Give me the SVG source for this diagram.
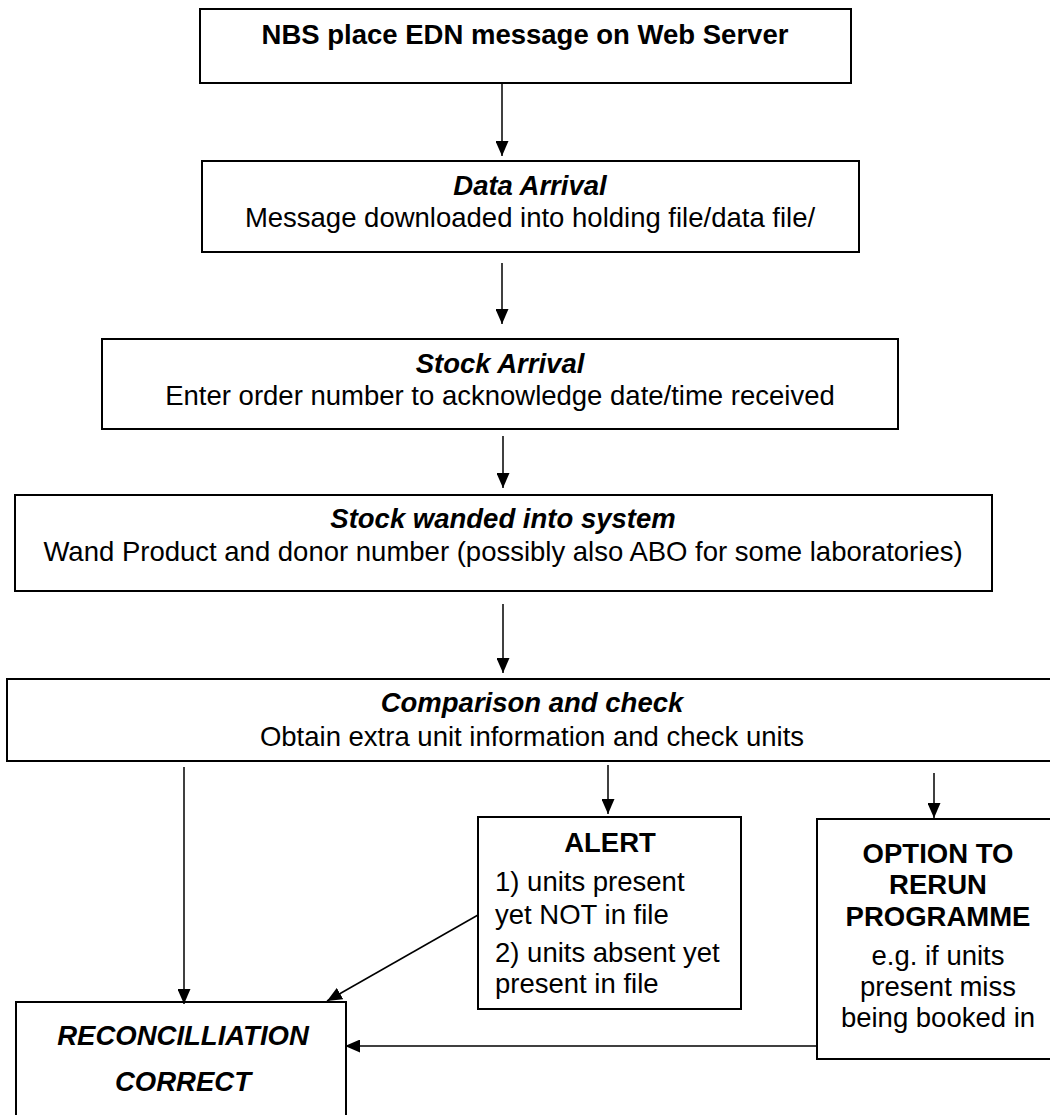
<svg xmlns="http://www.w3.org/2000/svg" width="1050" height="1115" viewBox="0 0 1050 1115">
<style>
.box{fill:#fff;stroke:#000;stroke-width:2}
.t{font-family:"Liberation Sans",Arial,sans-serif;font-size:27.5px;fill:#000}
.c{text-anchor:middle}
.b{font-weight:bold}
.bi{font-weight:bold;font-style:italic}
.con{fill:none;stroke:#000;stroke-width:1.5}
</style>
<defs>
<marker id="ah" viewBox="0 0 15 13" refX="15" refY="6.5" markerWidth="15" markerHeight="13" markerUnits="userSpaceOnUse" orient="auto">
<path d="M0,0 L15,6.5 L0,13 z" fill="#000"/>
</marker>
</defs>
<rect width="1050" height="1115" fill="#fff"/>
<g id="n1">
<rect class="box" x="200" y="9" width="651" height="74"/>
<text class="t c b" x="525" y="44">NBS place EDN message on Web Server</text>
</g>
<g id="n2">
<rect class="box" x="202" y="161" width="657" height="91"/>
<text class="t c bi" x="530" y="195">Data Arrival</text>
<text class="t c" x="530" y="227">Message downloaded into holding file/data file/</text>
</g>
<g id="n3">
<rect class="box" x="102" y="339" width="796" height="90"/>
<text class="t c bi" x="500" y="373">Stock Arrival</text>
<text class="t c" x="500" y="405">Enter order number to acknowledge date/time received</text>
</g>
<g id="n4">
<rect class="box" x="15" y="495" width="977" height="96"/>
<text class="t c bi" x="503" y="528">Stock wanded into system</text>
<text class="t c" x="503" y="561">Wand Product and donor number (possibly also ABO for some laboratories)</text>
</g>
<g id="n5">
<rect class="box" x="7" y="679" width="1050" height="82"/>
<text class="t c bi" x="532" y="712">Comparison and check</text>
<text class="t c" x="532" y="746">Obtain extra unit information and check units</text>
</g>
<g id="alert">
<rect class="box" x="478" y="817" width="263" height="192"/>
<text class="t c b" x="610" y="852">ALERT</text>
<text class="t" x="495" y="891">1) units present</text>
<text class="t" x="495" y="924">yet NOT in file</text>
<text class="t" x="495" y="962">2) units absent yet</text>
<text class="t" x="495" y="993">present in file</text>
</g>
<g id="option">
<rect class="box" x="817" y="819" width="240" height="240"/>
<text class="t c b" x="938" y="863">OPTION TO</text>
<text class="t c b" x="938" y="894">RERUN</text>
<text class="t c b" x="938" y="926">PROGRAMME</text>
<text class="t c" x="938" y="965">e.g. if units</text>
<text class="t c" x="938" y="996">present miss</text>
<text class="t c" x="938" y="1027">being booked in</text>
</g>
<g id="recon">
<rect class="box" x="16" y="1002" width="330" height="130"/>
<text class="t c bi" x="183" y="1045">RECONCILLIATION</text>
<text class="t c bi" x="183" y="1091">CORRECT</text>
</g>
<g id="connectors">
<path class="con" d="M502,83 V156" marker-end="url(#ah)"/>
<path class="con" d="M502,263 V324" marker-end="url(#ah)"/>
<path class="con" d="M503,436 V488" marker-end="url(#ah)"/>
<path class="con" d="M503,604 V673" marker-end="url(#ah)"/>
<path class="con" d="M184,767 V1004" marker-end="url(#ah)"/>
<path class="con" d="M608,765 V814" marker-end="url(#ah)"/>
<path class="con" d="M934,773 V818" marker-end="url(#ah)"/>
<path class="con" d="M478,915 L327,1001" marker-end="url(#ah)"/>
<path class="con" d="M816,1046 L345,1046" marker-end="url(#ah)"/>
</g>
</svg>
